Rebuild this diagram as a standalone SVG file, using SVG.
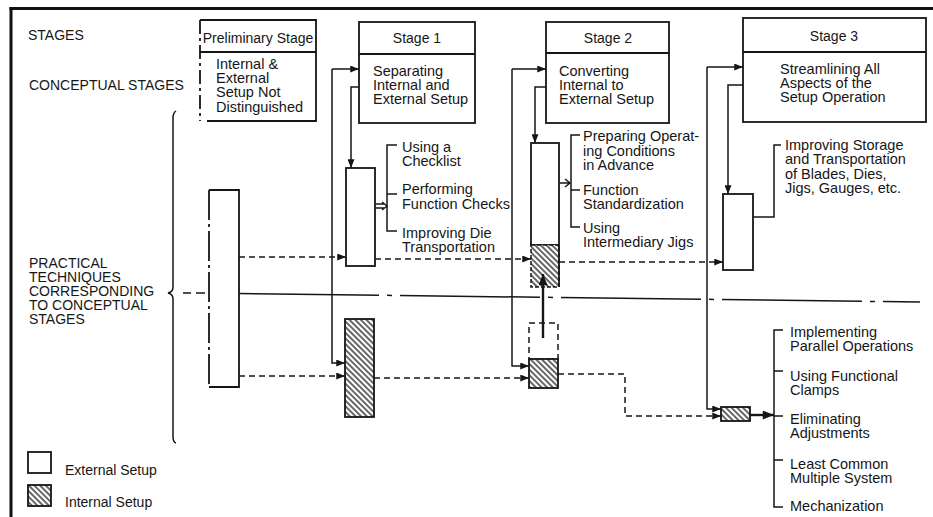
<svg xmlns="http://www.w3.org/2000/svg" width="933" height="517" viewBox="0 0 933 517">
<defs>
<style>
text{font-family:"Liberation Sans",Arial,sans-serif;fill:#161616;font-size:14.5px}
.lbl{font-size:14px}
.hd{font-size:14px;text-anchor:middle}
.box{fill:#fff;stroke:#161616;stroke-width:1.8}
.ln{fill:none;stroke:#161616;stroke-width:1.5}
.dash{fill:none;stroke:#161616;stroke-width:1.5;stroke-dasharray:6 4}
.thick{fill:none;stroke:#161616;stroke-width:2.4}
.hatch{fill:url(#hatch);stroke:#161616;stroke-width:1.8}
</style>
<pattern id="hatch" width="4" height="4" patternUnits="userSpaceOnUse" patternTransform="rotate(-45)">
<rect width="4" height="4" fill="#fff"/>
<line x1="1" y1="0" x2="1" y2="4" stroke="#161616" stroke-width="1.3"/>
</pattern>
<marker id="ah" viewBox="0 0 10 8" refX="10" refY="4" markerWidth="9" markerHeight="7" markerUnits="userSpaceOnUse" orient="auto">
<path d="M0,0 L10,4 L0,8 z" fill="#161616"/>
</marker>
<marker id="big" viewBox="0 0 10 8" refX="10" refY="4" markerWidth="12" markerHeight="9" markerUnits="userSpaceOnUse" orient="auto">
<path d="M0,0 L10,4 L0,8 z" fill="#161616"/>
</marker>
</defs>
<rect width="933" height="517" fill="#fff"/>
<g id="frame">
<line x1="11" y1="7" x2="11" y2="517" stroke="#111" stroke-width="3"/>
<line x1="9.5" y1="8.5" x2="933" y2="8.5" stroke="#111" stroke-width="3"/>
</g>
<g id="labels">
<text x="28" y="40" class="lbl">STAGES</text>
<text x="29" y="90" class="lbl">CONCEPTUAL STAGES</text>
<text x="29" y="268" class="lbl">PRACTICAL</text>
<text x="29" y="282" class="lbl">TECHNIQUES</text>
<text x="29" y="296" class="lbl">CORRESPONDING</text>
<text x="29" y="310" class="lbl">TO CONCEPTUAL</text>
<text x="29" y="324" class="lbl">STAGES</text>
<path class="ln" d="M176,111 Q173,113 173,118 L173,287 Q173,292 168,293 Q173,294 173,299 L173,437 Q173,442 176,443"/>
</g>
<g id="legend">
<rect x="28" y="452" width="23" height="21" class="box"/>
<text x="65" y="475" class="lbl">External Setup</text>
<rect x="28" y="485" width="23" height="21" class="hatch"/>
<text x="65" y="507" class="lbl">Internal Setup</text>
</g>
<g id="preliminary-stage">
<rect x="200" y="20" width="116" height="101" fill="#fff"/>
<path class="ln" style="stroke-width:1.8" d="M200,20 H316 V121 H207"/>
<line x1="200" y1="20" x2="200" y2="121" class="ln" style="stroke-width:1.8;stroke-dasharray:14 4 3 4"/>
<line x1="200" y1="52" x2="316" y2="52" class="ln" style="stroke-width:1.8"/>
<text x="258" y="43" class="hd">Preliminary Stage</text>
<text x="216" y="69">Internal &amp;</text>
<text x="216" y="83">External</text>
<text x="216" y="97">Setup Not</text>
<text x="216" y="112">Distinguished</text>
</g>
<g id="stage1">
<rect x="359" y="22" width="116" height="101" class="box"/>
<line x1="359" y1="54" x2="475" y2="54" class="ln" style="stroke-width:1.8"/>
<text x="417" y="43" class="hd">Stage 1</text>
<text x="373" y="76">Separating</text>
<text x="373" y="90">Internal and</text>
<text x="373" y="104">External Setup</text>
</g>
<g id="stage2">
<rect x="546" y="22" width="123" height="101" class="box"/>
<line x1="546" y1="53" x2="669" y2="53" class="ln" style="stroke-width:1.8"/>
<text x="608" y="43" class="hd">Stage 2</text>
<text x="559" y="76">Converting</text>
<text x="559" y="90">Internal to</text>
<text x="559" y="104">External Setup</text>
</g>
<g id="stage3">
<rect x="743" y="18" width="183" height="104" class="box"/>
<line x1="743" y1="52" x2="926" y2="52" class="ln" style="stroke-width:1.8"/>
<text x="834" y="41" class="hd">Stage 3</text>
<text x="780" y="74">Streamlining All</text>
<text x="780" y="88">Aspects of the</text>
<text x="780" y="102">Setup Operation</text>
</g>
<g id="prelim-bar">
<rect x="209" y="190" width="30" height="197" fill="#fff"/>
<path class="ln" style="stroke-width:1.8" d="M209,190 H239 V387 H209"/>
<line x1="209" y1="190" x2="209" y2="387" class="ln" style="stroke-width:1.8;stroke-dasharray:30 4 3 4"/>
</g>
<g id="s1-external">
<rect x="346" y="168" width="29" height="98" class="box"/>
</g>
<g id="s1-internal">
<rect x="345" y="319" width="29" height="98" class="hatch"/>
</g>
<g id="s1-techniques">
<path class="ln" d="M397,145 H387 V231 H397 M387,194 H397"/>
<text x="402" y="152">Using a</text>
<text x="402" y="166">Checklist</text>
<text x="402" y="194">Performing</text>
<text x="402" y="209">Function Checks</text>
<text x="402" y="238">Improving Die</text>
<text x="402" y="252">Transportation</text>
</g>
<g id="s2-upper">
<rect x="531" y="143" width="28" height="102" class="box"/>
<rect x="531" y="245" width="28" height="42" fill="url(#hatch)" stroke="#161616" stroke-width="1.5" stroke-dasharray="4 2"/>
<line x1="559" y1="245" x2="559" y2="287" class="ln" style="stroke-width:1.8"/>
</g>
<g id="s2-lower">
<rect x="529" y="323" width="29" height="36" fill="#fff" stroke="#161616" stroke-width="1.5" stroke-dasharray="6 4"/>
<rect x="529" y="359" width="29" height="29" class="hatch"/>
</g>
<g id="s2-techniques">
<path class="ln" d="M580,135 H571 V227 H580 M571,190 H580"/>
<text x="583" y="141">Preparing Operat-</text>
<text x="583" y="156">ing Conditions</text>
<text x="583" y="170">in Advance</text>
<text x="583" y="195">Function</text>
<text x="583" y="209">Standardization</text>
<text x="583" y="233">Using</text>
<text x="583" y="247">Intermediary Jigs</text>
</g>
<g id="s3-external">
<rect x="723" y="194" width="30" height="76" class="box"/>
</g>
<g id="s3-internal">
<rect x="721" y="407" width="29" height="14" class="hatch"/>
</g>
<g id="s3-techniques-top">
<text x="785" y="150">Improving Storage</text>
<text x="785" y="164">and Transportation</text>
<text x="785" y="179">of Blades, Dies,</text>
<text x="785" y="193">Jigs, Gauges, etc.</text>
</g>
<g id="s3-techniques-bottom">
<path class="ln" d="M783,330 H774 V507 H783 M774,371 H783 M774,416 H783 M774,460 H783"/>
<text x="790" y="337">Implementing</text>
<text x="790" y="351">Parallel Operations</text>
<text x="790" y="381">Using Functional</text>
<text x="790" y="395">Clamps</text>
<text x="790" y="424">Eliminating</text>
<text x="790" y="438">Adjustments</text>
<text x="790" y="469">Least Common</text>
<text x="790" y="483">Multiple System</text>
<text x="790" y="511">Mechanization</text>
</g>
<g id="connectors">
<path class="ln" d="M183,293 H191 M196,293 H205"/>
<path class="ln" style="stroke-dasharray:140 8 5 8" d="M239,293.5 L920,302"/>
<path class="ln" d="M332,69 V363 H345" marker-end="url(#ah)"/>
<path class="ln" d="M332,69 H359" marker-end="url(#ah)"/>
<path class="ln" d="M359,87 H351 V168" marker-end="url(#ah)"/>
<path class="dash" d="M239,257 H346" marker-end="url(#ah)"/>
<path class="dash" d="M239,376 H345" marker-end="url(#ah)"/>
<path class="dash" d="M375,259 H531" marker-end="url(#ah)"/>
<path class="dash" d="M374,378 H529" marker-end="url(#ah)"/>
<path class="ln" d="M376,204 H384 M376,208 H384 M382,202 L387,206 L382,210"/>
<path class="ln" d="M512,69 V366 H529" marker-end="url(#ah)"/>
<path class="ln" d="M512,69 H546" marker-end="url(#ah)"/>
<path class="ln" d="M546,87 H535 V143" marker-end="url(#ah)"/>
<path class="ln" d="M560,183 H570 M565,179 L570,183 L565,187"/>
<path class="thick" d="M543,338 V274" marker-end="url(#big)"/>
<path class="dash" d="M559,262 H723" marker-end="url(#ah)"/>
<path class="dash" d="M558,374 H625 V416 H721" marker-end="url(#ah)"/>
<path class="ln" d="M707,67 V409 H721" marker-end="url(#ah)"/>
<path class="ln" d="M707,67 H743" marker-end="url(#ah)"/>
<path class="ln" d="M743,85 H728 V194" marker-end="url(#ah)"/>
<path class="ln" d="M753,217 H774 V145 H781"/>
<path class="thick" d="M750,415 H774" marker-end="url(#big)"/>
</g>
</svg>
